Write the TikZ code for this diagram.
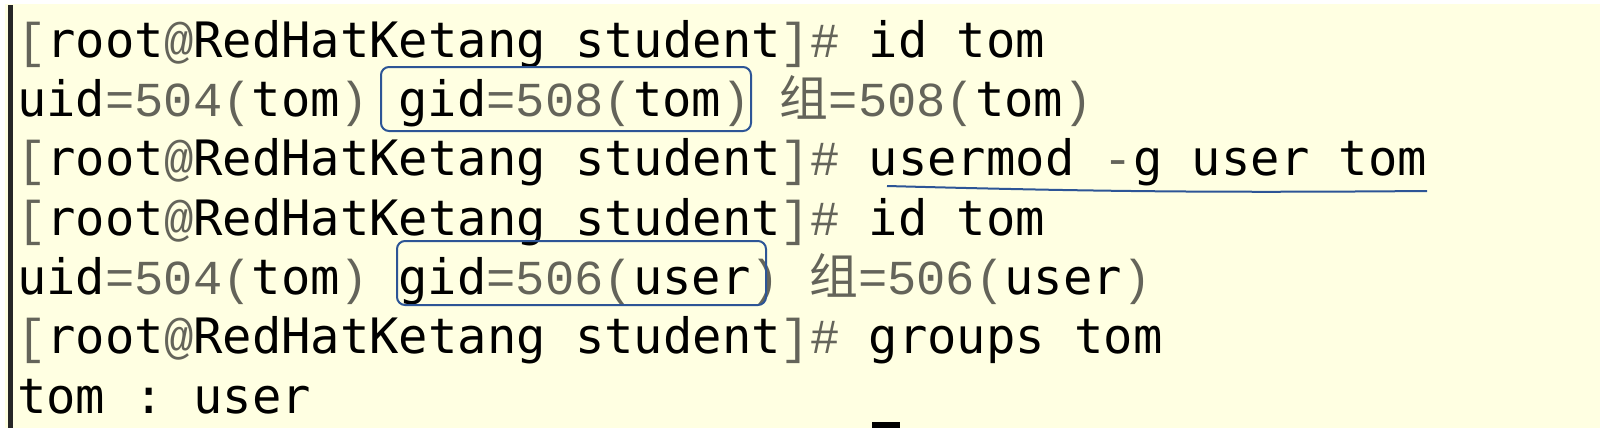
\documentclass[tikz,border=0pt]{standalone}
\usepackage{fontspec}
\setmonofont{DejaVu Sans Mono}
\newfontfamily\thinmono{Liberation Mono}
\newfontfamily\cjk{Noto Sans CJK SC}
\definecolor{termbg}{RGB}{255,255,226}
\definecolor{thin}{RGB}{100,100,90}
\definecolor{pen}{RGB}{45,85,150}
\newcommand{\lt}[1]{{\thinmono\color{thin}#1}}
\newcommand{\zu}{{\cjk\color{thin}组}}
\newcommand{\prompt}{\lt{[}root\lt{@}RedHatKetang student\lt{]\#} }

\begin{document}
\begin{tikzpicture}[x=1pt,y=-1pt,
	line/.style={anchor=base west,inner sep=0pt,font=\ttfamily\fontsize{48.8}{59}\selectfont},
	markbox/.style={draw=pen,line width=2pt,rounded corners=8pt}]
				\useasboundingbox(0,0)rectangle(1603,431);
				\fill[white](0,0)rectangle(1603,431);
				\fill[termbg](5,4)rectangle(1600,428);
				\fill[black!85](8,5)rectangle(13,428);
				\node[line](l1)at(17,57.3){\prompt id tom};
				\node[line](l2)at(17,116.6){uid\lt{=504(}tom\lt{)} gid\lt{=508(}tom\lt{)} \zu\lt{=508(}tom\lt{)}};
				\node[line](l3)at(17,175.9){\prompt usermod \lt{-}g user tom};
				\node[line](l4)at(17,235.2){\prompt id tom};
				\node[line](l5)at(17,294.5){uid\lt{=504(}tom\lt{)} gid\lt{=506(}user\lt{)} \zu\lt{=506(}user\lt{)}};
				\node[line](l6)at(17,353.8){\prompt groups tom};
				\node[line](l7)at(17,413.1){tom : user};
				\fill[black](872,422)rectangle(900,428);
				% marks
				\draw[markbox](381,67)rectangle(751,131);
				\draw[markbox](397,241)rectangle(766,305);
				\draw[pen,line width=2pt](887,186)to[bend right=1](1427,191);
			\end{tikzpicture}
\end{document}
